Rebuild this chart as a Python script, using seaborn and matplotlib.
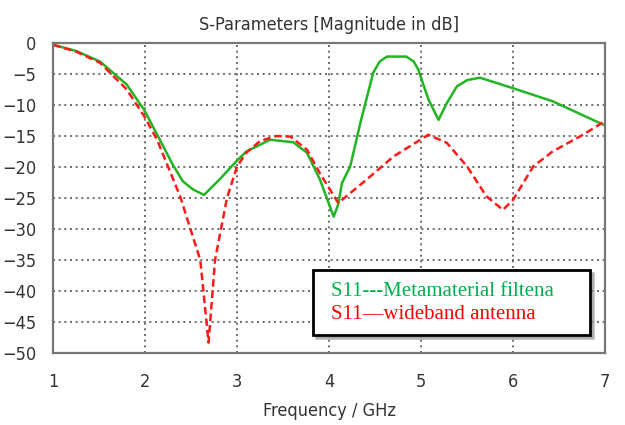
import matplotlib
matplotlib.use("Agg")
import matplotlib.pyplot as plt
import numpy as np
import pandas as pd
import seaborn as sns

# S11 of metamaterial filtenna (green, solid)
freq_filt = [1.0, 1.25, 1.51, 1.8, 1.99, 2.16, 2.3, 2.41, 2.52, 2.64, 2.81, 2.99, 3.1, 3.36,
             3.61, 3.76, 3.9, 4.0, 4.05, 4.1, 4.14, 4.23, 4.34, 4.48, 4.55, 4.63, 4.84,
             4.92, 4.97, 5.08, 5.19, 5.28, 5.39, 5.5, 5.64, 6.0, 6.43, 7.0]
s11_filt = [-0.3, -1.3, -3.0, -6.7, -10.8, -15.6, -19.6, -22.3, -23.6, -24.5, -22.0, -19.1, -17.5, -15.6,
            -16.0, -17.7, -22.0, -26.0, -28.0, -26.0, -22.6, -19.9, -12.9, -4.8, -3.0, -2.2, -2.2,
            -3.0, -4.3, -9.1, -12.4, -9.7, -7.0, -6.0, -5.6, -7.3, -9.4, -13.3]

# S11 of wideband antenna (red, dashed)
freq_wide = [1.0, 1.25, 1.51, 1.8, 1.99, 2.13, 2.38, 2.6, 2.69, 2.76, 2.89, 3.0, 3.1,
             3.25, 3.43, 3.58, 3.76, 3.9, 4.1, 4.41, 4.7, 5.08, 5.28, 5.5, 5.71, 5.89,
             6.0, 6.22, 6.43, 6.76, 7.0]
s11_wide = [-0.3, -1.4, -3.2, -7.5, -11.8, -15.6, -24.7, -35.0, -48.3, -35.0, -25.0, -19.9, -17.7,
            -15.8, -15.0, -15.1, -17.2, -21.0, -25.8, -22.0, -18.3, -14.8, -16.1, -19.9, -24.7, -26.9,
            -25.3, -19.9, -17.5, -14.8, -12.6]

labels = ["S11---Metamaterial filtena", "S11\u2014wideband antenna"]
line_colors = ["#22b422", "#ff1a1a"]
text_colors = ["#00b050", "#ff0000"]

df = pd.concat([
    pd.DataFrame({"freq": freq_filt, "s11": s11_filt, "curve": labels[0]}),
    pd.DataFrame({"freq": freq_wide, "s11": s11_wide, "curve": labels[1]}),
])

sns.set_style("white")
plt.rcParams["font.family"] = ["DejaVu Sans"]
plt.rcParams["font.stretch"] = "condensed"

fig = plt.figure(figsize=(6.25, 4.25), dpi=100)
ax = fig.add_axes([0.085, 0.169, 0.883, 0.730])

sns.lineplot(data=df, x="freq", y="s11", hue="curve", style="curve",
             palette=line_colors, dashes=[(None, None), (3, 1.6)],
             linewidth=1.8, sort=False, legend=False, ax=ax)

ax.set_xlim(1, 7)
ax.set_ylim(-50, 0)
ax.set_xticks(range(1, 8))
ax.set_yticks(range(-50, 1, 5))
ax.grid(True, linestyle=(0, (1.2, 2.2)), color="#555555", linewidth=1.2)
ax.tick_params(axis="both", direction="out", length=4, width=1, color="#666666",
               labelsize=13, labelcolor="#333333")
ax.tick_params(axis="x", pad=10)
ax.tick_params(axis="y", pad=8)
for sp in ax.spines.values():
    sp.set_color("#777777")
    sp.set_linewidth(1.6)

ax.set_title("S-Parameters [Magnitude in dB]", fontsize=13, color="#333333", pad=9)
ax.set_xlabel("Frequency / GHz", fontsize=13, color="#333333", labelpad=8)
ax.set_ylabel("")

# legend-like annotation box
handles = [plt.Line2D([], [], color="none") for _ in labels]
leg = ax.legend(handles, labels, loc="lower left", mode="expand",
                bbox_to_anchor=(0.471, 0.058, 0.502, 0.226), borderaxespad=0,
                handlelength=0, handletextpad=0.3, frameon=True, fancybox=False,
                shadow={"color": "#888888", "alpha": 0.5}, borderpad=0.55,
                prop={"family": "Liberation Serif", "size": 15, "stretch": "normal"},
                labelspacing=0.15)
leg.get_frame().set_edgecolor("black")
leg.get_frame().set_linewidth(2)
for t, c in zip(leg.get_texts(), text_colors):
    t.set_color(c)

fig.savefig("out.png", dpi=100)
